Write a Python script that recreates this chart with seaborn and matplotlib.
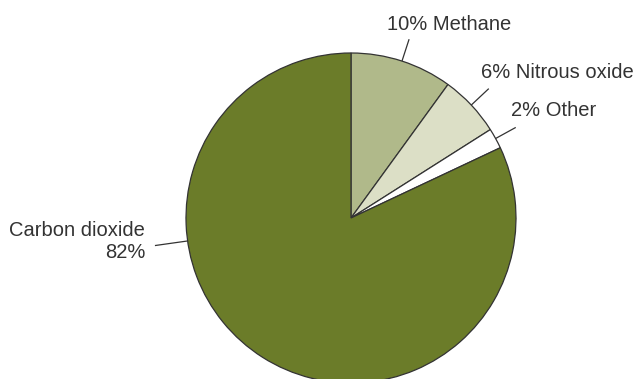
import numpy as np
import matplotlib
matplotlib.use("Agg")
import matplotlib.pyplot as plt
import seaborn as sns

categories = ["Methane", "Nitrous oxide", "Other", "Carbon dioxide"]
values = [10, 6, 2, 82]
colors = ["#b0b98a", "#dcdfc6", "#ffffff", "#6b7c29"]

sns.set_theme(style="white")
plt.rcParams['font.family'] = ['Liberation Sans', 'DejaVu Sans']

W, H = 637, 379
fig = plt.figure(figsize=(W / 100, H / 100), dpi=100)
ax = fig.add_axes([0, 0, 1, 1])

cx, cy, R = 351, H - 218, 165
wedges, _ = ax.pie(values, colors=colors, startangle=90, counterclock=False,
                   center=(cx, cy), radius=R, frame=True,
                   wedgeprops=dict(edgecolor="#333333", linewidth=0.9))
ax.set_xlim(0, W)
ax.set_ylim(0, H)
ax.set_aspect("equal")
ax.axis("off")

txtc = "#333333"
fs = 14.5

def leader(angle_deg, r0, r1):
    a = np.deg2rad(angle_deg)
    ax.plot([cx + r0 * np.cos(a), cx + r1 * np.cos(a)],
            [cy + r0 * np.sin(a), cy + r1 * np.sin(a)],
            color="#333333", lw=0.9, solid_capstyle="butt")

# mid angles of the slices
start = 90.0
mids = []
for v in values:
    span = v / sum(values) * 360
    mids.append(start - span / 2)
    start -= span

leader(mids[0], R, R + 23)
leader(mids[1], R, R + 24)
leader(mids[2], R, R + 23)
leader(188, R, R + 33)

ax.text(449, H - 24, f"{values[0]}% {categories[0]}", ha="center", va="center",
        fontsize=fs, color=txtc)
ax.text(481, H - 73, f"{values[1]}% {categories[1]}", ha="left", va="center",
        fontsize=fs, color=txtc)
ax.text(511, H - 110, f"{values[2]}% {categories[2]}", ha="left", va="center",
        fontsize=fs, color=txtc)
ax.text(145, H - 241, f"{categories[3]}\n{values[3]}%", ha="right", va="center",
        fontsize=fs, color=txtc, multialignment="right", linespacing=1.2)

fig.savefig("out.png", dpi=100, facecolor="white")
